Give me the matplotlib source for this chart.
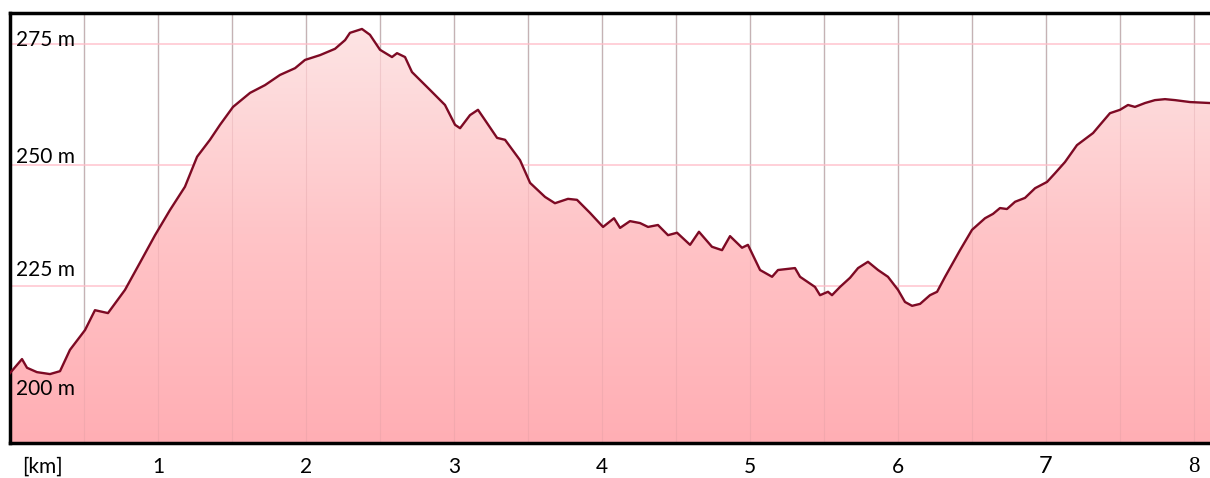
import numpy as np
import matplotlib
matplotlib.use("Agg")
import matplotlib.pyplot as plt
from matplotlib.colors import LinearSegmentedColormap

# ---- data ----
dist_km = [0.000, 0.081, 0.115, 0.182, 0.270, 0.338, 0.405, 0.507, 0.574, 0.662,
           0.777, 0.878, 0.980, 1.081, 1.182, 1.264, 1.351, 1.419, 1.507, 1.622,
           1.723, 1.824, 1.926, 1.993, 2.095, 2.196, 2.264, 2.297, 2.378, 2.432,
           2.500, 2.581, 2.615, 2.669, 2.716, 2.838, 2.939, 3.007, 3.041, 3.108,
           3.162, 3.209, 3.291, 3.345, 3.446, 3.514, 3.615, 3.682, 3.770, 3.831,
           3.919, 4.007, 4.081, 4.122, 4.189, 4.257, 4.311, 4.378, 4.446, 4.507,
           4.595, 4.655, 4.743, 4.811, 4.865, 4.946, 4.986, 5.068, 5.149, 5.189,
           5.304, 5.338, 5.439, 5.473, 5.527, 5.554, 5.608, 5.676, 5.730, 5.797,
           5.865, 5.932, 6.000, 6.047, 6.095, 6.149, 6.216, 6.264, 6.318, 6.419,
           6.500, 6.588, 6.642, 6.689, 6.736, 6.791, 6.858, 6.926, 7.007, 7.061,
           7.128, 7.209, 7.318, 7.365, 7.432, 7.500, 7.554, 7.601, 7.669, 7.736,
           7.804, 7.872, 7.973, 8.108]
elev_m = [207.0, 209.9, 208.1, 207.2, 206.8, 207.4, 211.8, 215.9, 220.0, 219.4,
          224.2, 229.8, 235.5, 240.7, 245.5, 251.7, 255.2, 258.3, 262.0, 264.9,
          266.5, 268.6, 270.0, 271.7, 272.7, 274.0, 275.8, 277.3, 278.1, 276.9,
          273.8, 272.3, 273.1, 272.3, 269.2, 265.5, 262.4, 258.3, 257.6, 260.3,
          261.4, 259.3, 255.6, 255.2, 251.0, 246.3, 243.4, 242.1, 243.0, 242.8,
          240.1, 237.2, 239.0, 237.0, 238.4, 238.0, 237.2, 237.6, 235.5, 236.0,
          233.5, 236.2, 233.1, 232.4, 235.3, 232.9, 233.5, 228.3, 226.9, 228.3,
          228.7, 226.9, 224.8, 223.1, 223.8, 223.1, 224.8, 226.7, 228.7, 230.0,
          228.3, 226.9, 224.2, 221.7, 220.9, 221.3, 223.1, 223.8, 226.9, 232.4,
          236.6, 239.0, 239.9, 241.1, 240.9, 242.4, 243.2, 245.2, 246.5, 248.3,
          250.6, 254.1, 256.6, 258.3, 260.7, 261.4, 262.4, 262.0, 262.8, 263.4,
          263.6, 263.4, 263.0, 262.8]

elev_ticks = [200, 225, 250, 275]
elev_labels = ["200 m", "225 m", "250 m", "275 m"]
elev_label_pos = [203.7, 228.3, 251.6, 275.8]
km_ticks = [0.22, 1, 2, 3, 4, 5, 6, 7, 8]
km_labels = ["[km]", "1", "2", "3", "4", "5", "6", "7", "8"]
grid_km = [0.5 * i for i in range(1, 17)]

x0, x1 = 0.0, 8.108
y0, y1 = 192.56, 281.4

fig = plt.figure(figsize=(12.10, 4.78), dpi=100)
ax = fig.add_axes([10 / 1210, 35 / 478, 1200 / 1210, 430 / 478])
ax.set_xlim(x0, x1)
ax.set_ylim(y0, y1)

# gridlines
for g in grid_km:
    ax.axvline(g, color="#bdbdbd", lw=1.0, zorder=1)
for t in elev_ticks:
    ax.axhline(t, color="#ffc8d2", lw=1.2, zorder=1)

# gradient fill
cmap = LinearSegmentedColormap.from_list("pk", ["#ffaeb4", "#ffc4c7", "#fde5e5"])
grad = np.linspace(0, 1, 256).reshape(-1, 1)
poly = ax.fill_between(dist_km, elev_m, y0, facecolor="none", edgecolor="none")
im = ax.imshow(grad, cmap=cmap, aspect="auto", origin="lower",
               extent=[x0, x1, y0, 279], zorder=2)
im.set_clip_path(poly.get_paths()[0], transform=ax.transData)

# faint grid over fill
for g in grid_km:
    ax.axvline(g, color="#d89aa0", lw=0.8, zorder=2.5, alpha=0.3)

ax.plot(dist_km, elev_m, color="#7d0a24", lw=1.7, zorder=3)

# y labels inside
for lab, yp in zip(elev_labels, elev_label_pos):
    ax.text(0.04, yp, lab, fontsize=15, family="Lato", color="black",
            va="center", ha="left", zorder=4)

ax.set_xticks([])
ax.set_yticks([])
for s in ["left", "top", "bottom"]:
    ax.spines[s].set_linewidth(2.5)
    ax.spines[s].set_color("black")
ax.spines["right"].set_visible(False)

# x labels below
for t, lab in zip(km_ticks, km_labels):
    fam = "Lato"
    fs = 15
    if lab == "7":
        fs = 17
    if lab == "8":
        fam = "Liberation Serif"
        fs = 16.5
    ax.text(t, -0.055, lab, transform=ax.get_xaxis_transform(), fontsize=fs,
            family=fam, ha="center", va="center", clip_on=False)

fig.savefig("out.png", dpi=100)
